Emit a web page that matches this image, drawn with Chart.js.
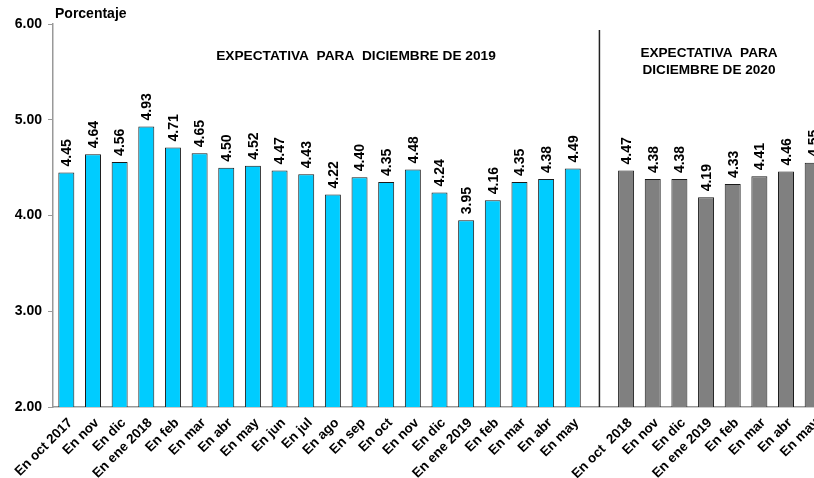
<!DOCTYPE html>
<html>
<head>
<meta charset="utf-8">
<script src="https://cdn.jsdelivr.net/npm/chart.js@4/dist/chart.umd.min.js"></script>
<style>
  html, body { margin: 0; padding: 0; background: #fff; overflow: hidden; }
  #wrap { width: 826px; height: 478px; position: relative; }
</style>
</head>
<body>
<div id="wrap"><canvas id="chart"></canvas></div>
<script>
// Expectations for December 2019 (surveys Oct 2017 - May 2019)
const cats2019 = ['En oct 2017', 'En nov', 'En dic', 'En ene 2018', 'En feb', 'En mar', 'En abr', 'En may',
  'En jun', 'En jul', 'En ago', 'En sep', 'En oct', 'En nov', 'En dic', 'En ene 2019', 'En feb', 'En mar',
  'En abr', 'En may'];
const vals2019 = [4.45, 4.64, 4.56, 4.93, 4.71, 4.65, 4.50, 4.52, 4.47, 4.43, 4.22, 4.40, 4.35, 4.48,
  4.24, 3.95, 4.16, 4.35, 4.38, 4.49];

// Expectations for December 2020 (surveys Oct 2018 - May 2019)
const cats2020 = ['En oct  2018', 'En nov', 'En dic', 'En ene 2019', 'En feb', 'En mar', 'En abr', 'En may'];
const vals2020 = [4.47, 4.38, 4.38, 4.19, 4.33, 4.41, 4.46, 4.55];

const yTicks = [2, 3, 4, 5, 6];

const FONT = '"Liberation Sans", Arial, sans-serif';

// one empty slot between the two groups holds the separator line
const labels = [...cats2019, '', ...cats2020];
const gap = cats2019.length;
const data2019 = [...vals2019, ...Array(cats2020.length + 1).fill(null)];
const data2020 = [...Array(cats2019.length + 1).fill(null), ...vals2020];

const extras = {
  id: 'extras',
  afterDatasetsDraw(chart) {
    const ctx = chart.ctx;
    const x = chart.scales.x;
    const area = chart.chartArea;

    // value labels above bars
    ctx.save();
    ctx.fillStyle = '#000';
    ctx.font = 'bold 14px ' + FONT;
    ctx.textAlign = 'left';
    ctx.textBaseline = 'middle';
    chart.data.datasets.forEach((ds, di) => {
      chart.getDatasetMeta(di).data.forEach((bar, i) => {
        if (ds.data[i] == null) return;
        ctx.save();
        ctx.translate(bar.x, bar.y - 6);
        ctx.rotate(-Math.PI / 2);
        ctx.fillText(ds.data[i].toFixed(2), 0, 1);
        ctx.restore();
      });
    });
    ctx.restore();

    // separator line
    const sx = x.getPixelForValue(gap);
    ctx.save();
    ctx.strokeStyle = '#222';
    ctx.lineWidth = 1.5;
    ctx.beginPath();
    ctx.moveTo(sx, 30);
    ctx.lineTo(sx, area.bottom);
    ctx.stroke();

    // texts
    ctx.fillStyle = '#000';
    ctx.textBaseline = 'middle';
    ctx.font = 'bold 14px ' + FONT;
    ctx.textAlign = 'left';
    ctx.fillText('Porcentaje', 55, 14);
    ctx.font = 'bold 13.7px ' + FONT;
    ctx.textAlign = 'center';
    ctx.fillText('EXPECTATIVA  PARA  DICIEMBRE DE 2019', 356, 56);
    ctx.font = 'bold 13.6px ' + FONT;
    ctx.fillText('EXPECTATIVA  PARA', 709, 53);
    ctx.fillText('DICIEMBRE DE 2020', 709, 70);
    ctx.restore();
  }
};

new Chart(document.getElementById('chart'), {
  type: 'bar',
  data: {
    labels: labels,
    datasets: [{
      data: data2019,
      backgroundColor: '#00ccff',
      borderColor: '#1a1a1a',
      borderWidth: 1,
      grouped: false,
      categoryPercentage: 1,
      barPercentage: 0.6
    }, {
      data: data2020,
      backgroundColor: '#808080',
      borderColor: '#1a1a1a',
      borderWidth: 1,
      grouped: false,
      categoryPercentage: 1,
      barPercentage: 0.6
    }]
  },
  options: {
    responsive: true,
    maintainAspectRatio: false,
    animation: false,
    layout: { padding: { top: 24, right: 0, left: 0, bottom: 0 } },
    plugins: { legend: { display: false }, tooltip: { enabled: false } },
    scales: {
      x: {
        grid: { display: false, drawTicks: false },
        border: { color: '#999', width: 1.5 },
        ticks: {
          color: '#000',
          font: { family: FONT, size: 13.5, weight: 'bold' },
          minRotation: 45,
          maxRotation: 45,
          autoSkip: false,
          padding: 8,
          labelOffset: 4
        },
        afterFit(scale) {
          scale.height = 71;
          scale.paddingLeft = 0;
          scale.paddingRight = 0;
        }
      },
      y: {
        min: yTicks[0],
        max: yTicks[yTicks.length - 1],
        afterBuildTicks(scale) { scale.ticks = yTicks.map(v => ({ value: v })); },
        grid: { drawOnChartArea: false, drawTicks: true, tickLength: 5, color: '#999' },
        border: { color: '#999', width: 1.5 },
        ticks: {
          color: '#000',
          padding: 6,
          font: { family: FONT, size: 14, weight: 'bold' },
          callback: v => v.toFixed(2)
        },
        afterFit(scale) { scale.width = 53; }
      }
    }
  },
  plugins: [extras]
});
</script>
</body>
</html>
